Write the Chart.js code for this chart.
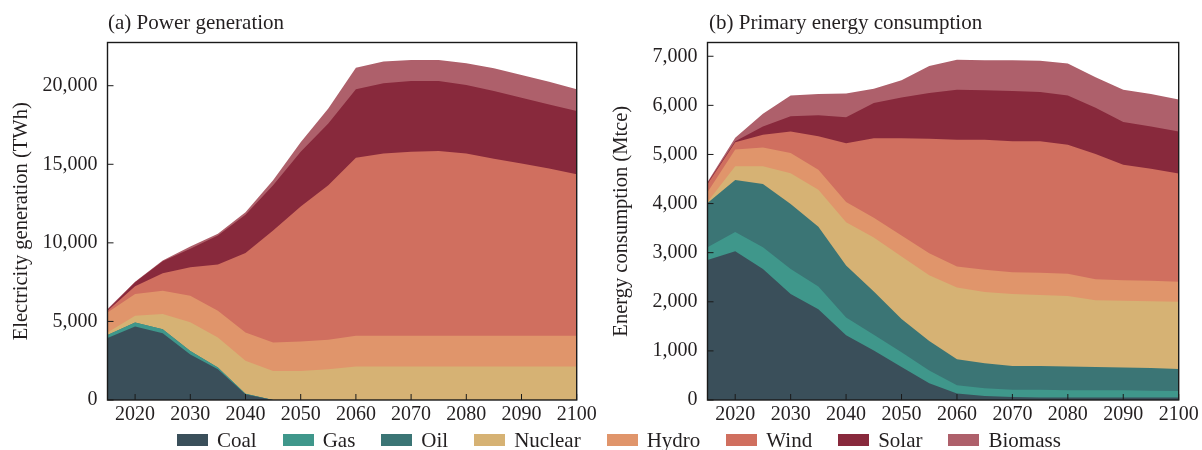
<!DOCTYPE html>
<html>
<head>
<meta charset="utf-8">
<script src="https://cdn.jsdelivr.net/npm/chart.js@4.4.1/dist/chart.umd.min.js"></script>
<style>
  html, body { margin: 0; padding: 0; background: #fff; }
  #wrap { position: relative; width: 1202px; height: 450px; font-family: "Liberation Serif", serif; color: #231f20; }
  .panel { position: absolute; top: 0; }
  .title { position: absolute; top: 10px; font-size: 21px; line-height: 24px; white-space: nowrap; }
  #legend { position: absolute; left: 177px; top: 428px; display: flex; align-items: center; font-size: 21px; line-height: 24px; }
  #legend .item { display: flex; align-items: center; margin-right: 26px; }
  #legend .sw { width: 31px; height: 12px; margin-right: 9px; }
</style>
</head>
<body>
<div id="wrap">
  <canvas id="power" class="panel" width="600" height="450" style="left:0"></canvas>
  <canvas id="energy" class="panel" width="602" height="450" style="left:600px"></canvas>
  <div class="title" style="left:108px">(a) Power generation</div>
  <div class="title" style="left:709px">(b) Primary energy consumption</div>
  <div id="legend"></div>
</div>
<script>
// ------------------ DADOS ------------------
const years = [2015, 2020, 2025, 2030, 2035, 2040, 2045, 2050, 2055, 2060, 2065, 2070, 2075, 2080, 2085, 2090, 2095, 2100];
const xTicks = [2020, 2030, 2040, 2050, 2060, 2070, 2080, 2090, 2100];
const powerTicks = [0, 5000, 10000, 15000, 20000];
const energyTicks = [0, 1000, 2000, 3000, 4000, 5000, 6000, 7000];

const sources = ["Coal", "Gas", "Oil", "Nuclear", "Hydro", "Wind", "Solar", "Biomass"];
const colors = ["#3a4f5a", "#3f978b", "#3b7575", "#d6b274", "#e0956b", "#d06f5f", "#88293c", "#ae606b"];

// (a) geração de eletricidade, TWh
const powerCoal    = [3950, 4680, 4250, 2900, 1950, 360, 0, 0, 0, 0, 0, 0, 0, 0, 0, 0, 0, 0];
const powerGas     = [180, 250, 250, 220, 120, 40, 0, 0, 0, 0, 0, 0, 0, 0, 0, 0, 0, 0];
const powerOil     = [0, 0, 0, 0, 0, 0, 0, 0, 0, 0, 0, 0, 0, 0, 0, 0, 0, 0];
const powerNuclear = [170, 430, 970, 1820, 1910, 2090, 1850, 1850, 1960, 2130, 2130, 2130, 2130, 2130, 2130, 2130, 2130, 2130];
const powerHydro   = [1275, 1390, 1490, 1700, 1700, 1810, 1810, 1870, 1870, 1960, 1960, 1960, 1960, 1960, 1960, 1960, 1960, 1960];
const powerWind    = [105, 490, 1110, 1810, 2940, 5060, 7130, 8600, 9830, 11320, 11590, 11700, 11760, 11590, 11270, 10960, 10640, 10270];
const powerSolar   = [40, 250, 760, 1170, 1850, 2430, 2870, 3470, 3940, 4360, 4470, 4510, 4450, 4370, 4300, 4190, 4080, 4030];
const powerBiomass = [70, 40, 40, 150, 110, 150, 320, 610, 950, 1380, 1390, 1340, 1340, 1380, 1450, 1440, 1450, 1380];

// (b) consumo de energia primária, Mtce
const energyCoal    = [2850, 3030, 2670, 2160, 1850, 1320, 1010, 670, 340, 130, 80, 60, 50, 50, 50, 50, 50, 50];
const energyGas     = [260, 390, 440, 510, 460, 360, 320, 300, 260, 170, 160, 150, 160, 150, 150, 150, 140, 135];
const energyOil     = [900, 1060, 1290, 1320, 1220, 1060, 880, 680, 600, 530, 510, 480, 480, 480, 470, 460, 460, 445];
const energyNuclear = [20, 280, 360, 630, 750, 880, 1100, 1270, 1340, 1460, 1450, 1470, 1450, 1440, 1360, 1360, 1360, 1370];
const energyHydro   = [200, 340, 380, 410, 410, 410, 400, 430, 450, 430, 450, 440, 450, 450, 430, 420, 420, 410];
const energyWind    = [170, 150, 260, 440, 680, 1200, 1620, 1980, 2330, 2580, 2650, 2670, 2680, 2630, 2550, 2350, 2280, 2200];
const energySolar   = [20, 20, 170, 310, 430, 530, 720, 830, 930, 1020, 1010, 1020, 1000, 1000, 940, 870, 860, 860];
const energyBiomass = [20, 70, 260, 420, 430, 480, 290, 350, 550, 610, 610, 630, 640, 650, 620, 660, 660, 650];

const FONT = "Liberation Serif";
const TEXT = "#231f20";

// moldura + ticks para dentro
const frameTicks = {
    id: "frameTicks",
    afterDatasetsDraw(chart) {
        const { ctx, chartArea: a, scales } = chart;
        ctx.save();
        ctx.strokeStyle = "#1a1a1a";
        ctx.lineWidth = 1;
        ctx.beginPath();
        scales.x.ticks.forEach(t => {
            const px = scales.x.getPixelForValue(t.value);
            ctx.moveTo(px, a.bottom);
            ctx.lineTo(px, a.bottom - 6);
        });
        scales.y.ticks.forEach(t => {
            const py = scales.y.getPixelForValue(t.value);
            ctx.moveTo(a.left, py);
            ctx.lineTo(a.left + 6, py);
        });
        ctx.stroke();
        ctx.lineWidth = 1.4;
        ctx.strokeRect(a.left, a.top, a.width, a.height);
        ctx.restore();
    }
};

function createAreaChart(id, series, yMax, yTicks, yTitle) {
    return new Chart(document.getElementById(id), {
        type: "line",
        data: {
            datasets: series.map((s, i) => ({
                label: sources[i],
                data: years.map((yr, k) => ({ x: yr, y: s[k] })),
                backgroundColor: colors[i],
                borderColor: colors[i],
                borderWidth: 0,
                pointRadius: 0,
                tension: 0,
                fill: "origin"
            }))
        },
        options: {
            responsive: false,
            animation: false,
            devicePixelRatio: 1,
            layout: { padding: { left: 4, right: 23.3, top: 42.5, bottom: 0 } },
            plugins: { legend: { display: false }, tooltip: { enabled: false } },
            scales: {
                x: {
                    type: "linear",
                    min: 2015,
                    max: 2100,
                    grid: { display: false, drawTicks: false },
                    border: { display: false },
                    afterBuildTicks: s => { s.ticks = xTicks.map(v => ({ value: v })); },
                    afterFit: s => { s.height = 50; },
                    ticks: {
                        padding: 3,
                        color: TEXT,
                        font: { family: FONT, size: 20 },
                        maxRotation: 0,
                        autoSkip: false,
                        callback: v => String(v)
                    }
                },
                y: {
                    stacked: true,
                    min: 0,
                    max: yMax,
                    grid: { display: false, drawTicks: false },
                    border: { display: false },
                    afterBuildTicks: s => { s.ticks = yTicks.map(v => ({ value: v })); },
                    afterFit: s => { s.width = 103.5; },
                    ticks: {
                        padding: 10,
                        color: TEXT,
                        font: { family: FONT, size: 20 },
                        callback: v => v.toLocaleString("en-US")
                    },
                    title: {
                        display: true,
                        text: yTitle,
                        color: TEXT,
                        font: { family: FONT, size: 20.5 },
                        padding: { top: 5, bottom: 0 }
                    }
                }
            }
        },
        plugins: [frameTicks]
    });
}

createAreaChart("power",
    [powerCoal, powerGas, powerOil, powerNuclear, powerHydro, powerWind, powerSolar, powerBiomass],
    22750, powerTicks, "Electricity generation (TWh)");

createAreaChart("energy",
    [energyCoal, energyGas, energyOil, energyNuclear, energyHydro, energyWind, energySolar, energyBiomass],
    7280, energyTicks, "Energy consumption (Mtce)");

// legenda em HTML
const legend = document.getElementById("legend");
sources.forEach((name, i) => {
    const item = document.createElement("div");
    item.className = "item";
    item.innerHTML = `<span class="sw" style="background:${colors[i]}"></span><span>${name}</span>`;
    legend.appendChild(item);
});
</script>
</body>
</html>
